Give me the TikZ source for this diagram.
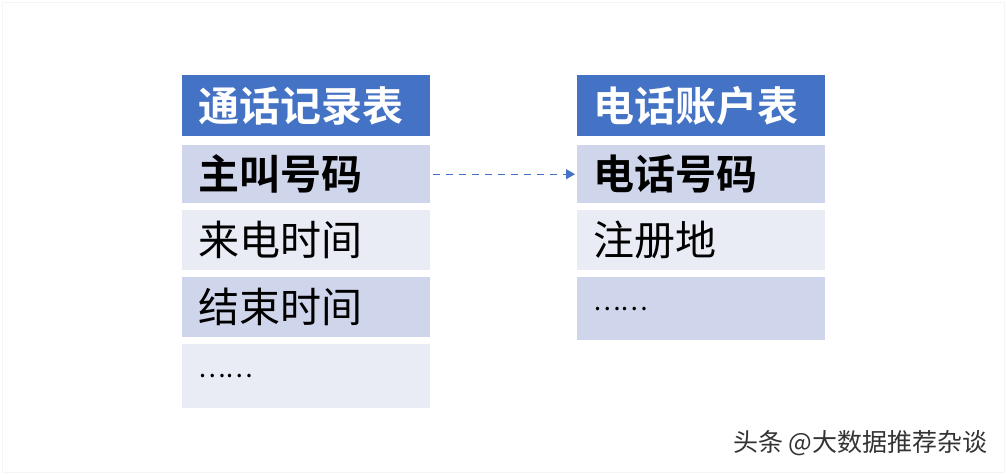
\documentclass[tikz,border=0pt]{standalone}
\usepackage{fontspec}
\newfontfamily\cjk{Noto Sans CJK SC}
\newfontfamily\cjkb{Noto Sans CJK SC Bold}
\usetikzlibrary{arrows.meta}
\definecolor{hdr}{HTML}{4472C4}
\definecolor{rowd}{HTML}{CFD5EA}
\definecolor{rowl}{HTML}{E9EBF5}
\tikzset{
 cell/.style={minimum width=248pt,inner sep=0pt,anchor=north west,text width=216pt,align=left,font=\cjk\fontsize{41}{46}\selectfont},
 hcell/.style={cell,fill=hdr,text=white,font=\cjkb\fontsize{41}{46}\selectfont},
 dcell/.style={cell,fill=rowd},
 lcell/.style={cell,fill=rowl},
}
\begin{document}
\begin{tikzpicture}[x=1pt,y=-1pt]
\useasboundingbox[fill=white] (0,0) rectangle (1006,474);
\draw[gray!8] (2,2) rectangle (1004,472);
% left table
\node[hcell,minimum height=61pt] (lh) at (182,75) {通话记录表};
\node[dcell,minimum height=58pt,font=\cjkb\fontsize{41}{46}\selectfont] (l1) at (182,145) {主叫号码};
\node[lcell,minimum height=60pt] (l2) at (182,210) {来电时间};
\node[dcell,minimum height=60pt] (l3) at (182,277) {结束时间};
\node[lcell,minimum height=64pt,font=\cjk\fontsize{26}{30}\selectfont] (l4) at (182,344) {……};
% right table
\node[hcell,minimum height=61pt] (rh) at (577,75) {电话账户表};
\node[dcell,minimum height=58pt,font=\cjkb\fontsize{41}{46}\selectfont] (r1) at (577,145) {电话号码};
\node[lcell,minimum height=60pt] (r2) at (577,210) {注册地};
\node[dcell,minimum height=63pt,font=\cjk\fontsize{26}{30}\selectfont] (r3) at (577,277) {……};
\draw[hdr,line width=1.2pt,dash pattern=on 7pt off 6pt,-{Triangle[length=9pt,width=10pt]}] ([xshift=3pt]l1.east) -- ([xshift=-2pt]r1.west);
\node[anchor=east,font=\cjk\fontsize{25}{28}\selectfont,text=black!80] (wm) at (991,443) {头条 @大数据推荐杂谈};
\end{tikzpicture}
\end{document}
